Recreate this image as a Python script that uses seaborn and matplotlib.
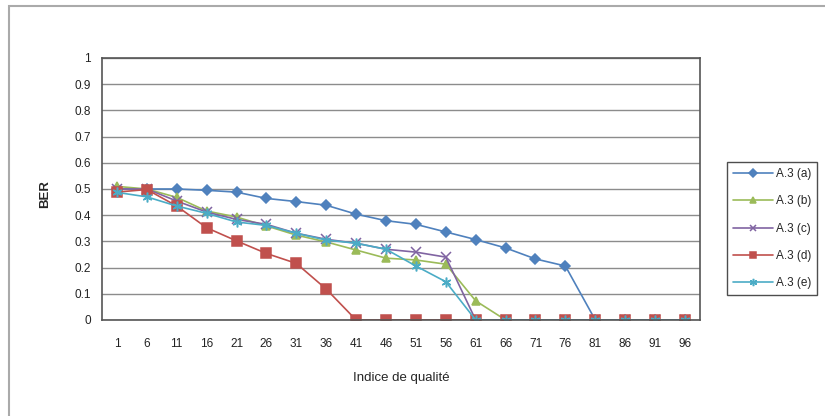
import numpy as np
import pandas as pd
import matplotlib
matplotlib.use("Agg")
import matplotlib.pyplot as plt
import seaborn as sns
from matplotlib.patches import Rectangle

# ------------------------------------------------------------
# Data
# ------------------------------------------------------------
quality = [1, 6, 11, 16, 21, 26, 31, 36, 41, 46, 51, 56, 61, 66, 71, 76, 81, 86, 91, 96]

ber_a = [0.50, 0.50, 0.50, 0.495, 0.488, 0.464, 0.452, 0.438, 0.404, 0.379,
         0.365, 0.336, 0.307, 0.275, 0.233, 0.206, 0, 0, 0, 0]
ber_b = [0.51, 0.50, 0.468, 0.416, 0.393, 0.359, 0.324, 0.298, 0.267, 0.236,
         0.229, 0.213, 0.073, 0, 0, 0, 0, 0, 0, 0]
ber_c = [0.50, 0.50, 0.454, 0.412, 0.384, 0.365, 0.331, 0.308, 0.293, 0.27,
         0.259, 0.24, 0, 0, 0, 0, 0, 0, 0, 0]
ber_d = [0.488, 0.498, 0.435, 0.352, 0.302, 0.254, 0.216, 0.118, 0, 0,
         0, 0, 0, 0, 0, 0, 0, 0, 0, 0]
ber_e = [0.487, 0.47, 0.435, 0.407, 0.374, 0.361, 0.331, 0.305, 0.293, 0.27,
         0.206, 0.146, 0, 0, 0, 0, 0, 0, 0, 0]

series_names = ["A.3 (a)", "A.3 (b)", "A.3 (c)", "A.3 (d)", "A.3 (e)"]
series_values = [ber_a, ber_b, ber_c, ber_d, ber_e]

colors = ["#4F81BD", "#9BBB59", "#8064A2", "#C0504D", "#4BACC6"]
markers = ["D", "^", "x", "s", (6, 2, 0)]
msizes = [5, 6, 6.5, 6.5, 7]

# long-form table, x as category position
rows = []
for name, vals in zip(series_names, series_values):
    for i, v in enumerate(vals):
        rows.append({"pos": i, "BER": v, "serie": name})
df = pd.DataFrame(rows)

# ------------------------------------------------------------
# Plot
# ------------------------------------------------------------
sns.set_style("white")
plt.rcParams["font.family"] = ["Liberation Sans", "DejaVu Sans"]

fig = plt.figure(figsize=(8.25, 4.16), dpi=100)
ax = fig.add_axes([0.1236, 0.2308, 0.7248, 0.6298])

for name, col, mk, ms in zip(series_names, colors, markers, msizes):
    sub = df[df["serie"] == name]
    sns.lineplot(data=sub, x="pos", y="BER", ax=ax, color=col, marker=mk,
                 markersize=ms, markeredgecolor=col, markeredgewidth=1.1,
                 linewidth=1.2, label=name)

ax.set_xlim(-0.5, len(quality) - 0.5)
ax.set_ylim(0, 1)
ax.set_xticks(range(len(quality)))
ax.set_xticklabels([str(q) for q in quality])
ax.set_yticks(np.arange(0, 1.01, 0.1))
ax.set_yticklabels(["0", "0.1", "0.2", "0.3", "0.4", "0.5", "0.6", "0.7", "0.8", "0.9", "1"])
ax.tick_params(axis="both", length=0, labelsize=8.5, colors="#222222")
ax.tick_params(axis="x", pad=13)
ax.tick_params(axis="y", pad=8)
ax.yaxis.grid(True, color="#8c8c8c", linewidth=1)
ax.xaxis.grid(False)
ax.set_axisbelow(True)
for sp in ax.spines.values():
    sp.set_color("#555555")
    sp.set_linewidth(1.2)

ax.set_xlabel("Indice de qualité", fontsize=9.5)
ax.set_ylabel("BER", fontsize=9.5, fontweight="bold")
ax.xaxis.set_label_coords(0.5, -0.2)
ax.yaxis.set_label_coords(-0.085, 0.48)

leg = ax.legend(loc="upper left", bbox_to_anchor=(1.035, 0.625), frameon=True,
                fancybox=False, fontsize=8.5, handlelength=3.4, borderpad=0.5,
                labelspacing=1.3, handletextpad=0.25, markerscale=0.75)
leg.get_frame().set_edgecolor("#222222")
leg.get_frame().set_linewidth(1)

# outer chart border
fig.patches.append(Rectangle((9 / 825, -0.05), 1.1, 1 - 6 / 416 + 0.05,
                             transform=fig.transFigure, fill=False,
                             edgecolor="#aaaaaa", linewidth=1.5))

fig.savefig("out.png", dpi=100)
